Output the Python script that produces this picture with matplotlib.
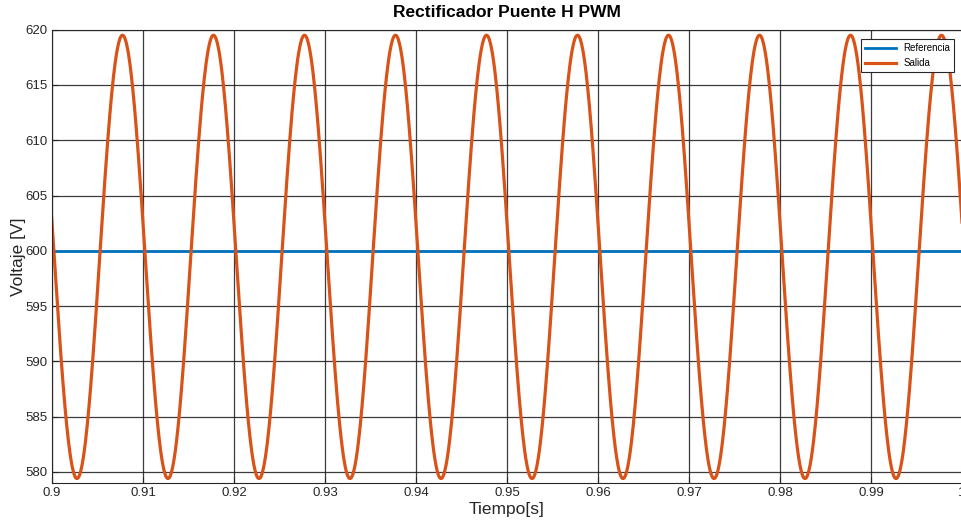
import numpy as np
import matplotlib.pyplot as plt

plt.rcParams["font.family"] = ["Liberation Sans", "DejaVu Sans"]

# Reference voltage (constant setpoint)
v_ref = 600.0

# Output voltage extrema (time [s], voltage [V]), alternating peak / trough
t_ext = [0.89775, 0.90275, 0.90775, 0.91275, 0.91775, 0.92275, 0.92775,
         0.93275, 0.93775, 0.94275, 0.94775, 0.95275, 0.95775, 0.96275,
         0.96775, 0.97275, 0.97775, 0.98275, 0.98775, 0.99275, 0.99775,
         1.00275]
v_ext = [619.5, 579.4, 619.5, 579.4, 619.5, 579.4, 619.5,
         579.4, 619.5, 579.4, 619.5, 579.4, 619.5, 579.4,
         619.5, 579.4, 619.5, 579.4, 619.5, 579.4, 619.5,
         579.4]

# build a smooth trace by joining consecutive extrema with half-cosine arcs
t_out, v_out = [], []
for i in range(len(t_ext) - 1):
    s = np.linspace(0, 1, 80, endpoint=False)
    t_out.append(t_ext[i] + s * (t_ext[i + 1] - t_ext[i]))
    v_out.append(v_ext[i] + (v_ext[i + 1] - v_ext[i]) * (1 - np.cos(np.pi * s)) / 2)
t_out = np.concatenate(t_out + [[t_ext[-1]]])
v_out = np.concatenate(v_out + [[v_ext[-1]]])

fig = plt.figure(figsize=(9.62, 5.21), dpi=100)
ax = fig.add_axes([0.054, 0.073, 0.946, 0.870])

ax.plot([0.9, 1.0], [v_ref, v_ref], color="#0072BD", linewidth=2.0, label="Referencia")
ax.plot(t_out, v_out, color="#D95319", linewidth=2.3, label="Salida")

ax.set_xlim(0.9, 1.0)
ax.set_ylim(579, 620)
ax.set_xticks(np.arange(0.9, 1.0001, 0.01))
ax.set_xticklabels(["0.9", "0.91", "0.92", "0.93", "0.94", "0.95",
                    "0.96", "0.97", "0.98", "0.99", "1"])
ax.set_yticks(np.arange(580, 621, 5))

ax.grid(True, color="#1a1a1a", linewidth=0.9, alpha=0.85)
ax.tick_params(direction="in", length=4, labelsize=9.5, colors="#262626", pad=3)
for sp in ax.spines.values():
    sp.set_color("#262626")
    sp.set_linewidth(0.8)

ax.set_title("Rectificador Puente H PWM", fontsize=12.5, fontweight="bold", pad=9)
ax.set_xlabel("Tiempo[s]", fontsize=12.5, color="#262626", labelpad=2)
ax.set_ylabel("Voltaje [V]", fontsize=12.5, color="#262626", labelpad=-0.5)

leg = ax.legend(loc="upper right", bbox_to_anchor=(0.9915, 0.979), fontsize=7,
                handlelength=3.2, fancybox=False, framealpha=1, edgecolor="#262626",
                borderpad=0.4, labelspacing=0.5, borderaxespad=0)
leg.get_frame().set_linewidth(0.8)

fig.savefig("out.png", dpi=100)
